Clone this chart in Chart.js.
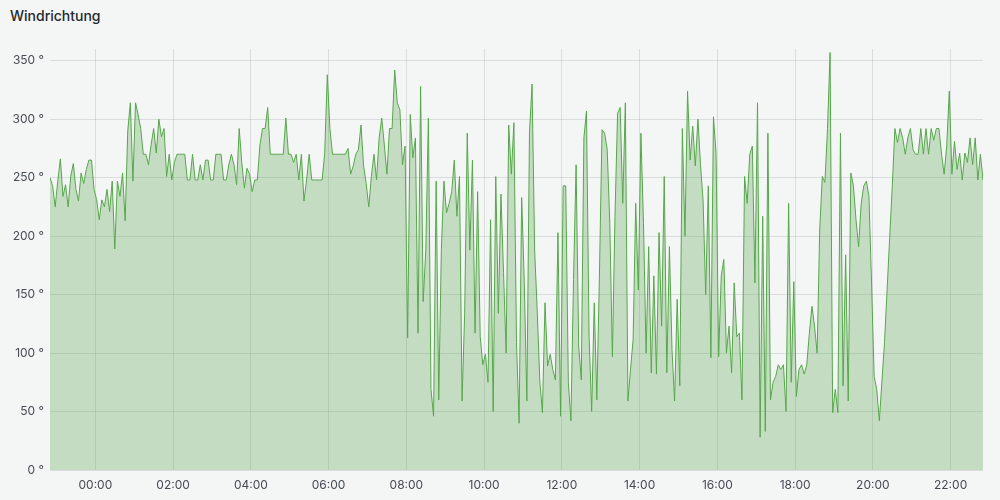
<!DOCTYPE html>
<html>
<head>
<meta charset="utf-8">
<title>Windrichtung</title>
<script src="https://cdn.jsdelivr.net/npm/chart.js@4/dist/chart.umd.min.js"></script>
<style>
    html, body { margin: 0; padding: 0; background: #f4f5f5; }
    .panel { position: relative; width: 1000px; height: 500px; }
    .panel-title {
        position: absolute; left: 10px; top: 7px;
        font: 500 14px/18px Inter, "Noto Sans", sans-serif;
        color: #24292e;
    }
    canvas { position: absolute; left: 0; top: 0; }
</style>
</head>
<body>
<div class="panel">
    <div class="panel-title">Windrichtung</div>
    <canvas id="chart" width="1000" height="500"></canvas>
</div>
<script>
// wind direction samples, one every 4 minutes, first one at 22:50 the day before
const startMinute = -70;
const stepMinutes = 4;
const directionDeg = [
    250, 243, 225, 247, 266, 234, 244, 225, 251, 262, 240, 230, 254, 245, 257,
    265, 265, 240, 231, 214, 231, 225, 240, 221, 247, 189, 247, 234, 254, 213,
    290, 314, 247, 314, 304, 292, 270, 270, 261, 278, 292, 271, 300, 285, 292,
    251, 270, 248, 263, 270, 270, 270, 270, 248, 248, 270, 248, 248, 261, 248,
    265, 265, 248, 248, 270, 270, 270, 248, 248, 261, 270, 261, 244, 292, 263,
    241, 258, 253, 238, 248, 248, 278, 292, 292, 310, 270, 270, 270, 270, 270,
    270, 301, 270, 270, 263, 270, 248, 270, 230, 248, 270, 248, 248, 248, 248,
    248, 271, 338, 292, 270, 270, 270, 270, 270, 270, 275, 253, 260, 270, 274,
    295, 260, 245, 225, 251, 270, 248, 284, 301, 278, 253, 292, 292, 342, 314,
    308, 261, 277, 113, 304, 267, 284, 117, 328, 144, 188, 301, 69, 46, 247,
    60, 188, 247, 220, 228, 238, 265, 217, 251, 59, 134, 288, 188, 265, 117,
    238, 114, 90, 99, 75, 214, 50, 251, 134, 236, 169, 100, 295, 253, 297,
    109, 40, 233, 161, 59, 288, 330, 188, 136, 76, 49, 143, 89, 99, 86,
    77, 203, 46, 243, 243, 75, 42, 163, 261, 106, 77, 284, 307, 114, 50,
    143, 60, 166, 291, 288, 274, 211, 97, 217, 305, 310, 228, 314, 59, 86,
    112, 228, 154, 288, 211, 100, 191, 83, 166, 82, 203, 123, 251, 83, 191,
    103, 59, 146, 72, 292, 200, 324, 265, 294, 260, 300, 261, 230, 150, 243,
    96, 302, 271, 97, 166, 180, 100, 123, 83, 160, 114, 117, 60, 251, 228,
    270, 277, 160, 314, 28, 217, 33, 288, 60, 75, 80, 90, 86, 90, 50,
    228, 75, 161, 63, 86, 90, 82, 90, 117, 140, 123, 100, 206, 251, 246,
    292, 357, 49, 69, 49, 288, 72, 184, 59, 254, 243, 214, 191, 228, 243,
    247, 234, 160, 80, 69, 42, 76, 109, 154, 199, 243, 292, 280, 292, 284,
    270, 284, 292, 274, 270, 270, 292, 270, 292, 270, 292, 282, 292, 292, 270,
    253, 277, 324, 253, 281, 257, 271, 248, 271, 263, 284, 261, 284, 248, 270,
    248
];
const xTickHours = [0, 2, 4, 6, 8, 10, 12, 14, 16, 18, 20, 22];
const yTickDeg = [0, 50, 100, 150, 200, 250, 300, 350];

const points = directionDeg.map((v, i) => ({ x: (startMinute + i * stepMinutes) / 60, y: v }));
const lastHour = (startMinute + (directionDeg.length - 1) * stepMinutes) / 60;

const tickFont = { family: 'Inter, "Noto Sans", sans-serif', size: 12 };
const tickColor = '#464c54';
const gridColor = 'rgba(36, 41, 46, 0.12)';

new Chart(document.getElementById('chart'), {
    type: 'line',
    data: {
        datasets: [{
            label: 'Windrichtung',
            data: points,
            borderColor: '#56a64b',
            backgroundColor: 'rgba(86, 166, 75, 0.3)',
            borderWidth: 1,
            pointRadius: 0,
            tension: 0,
            fill: 'origin'
        }]
    },
    options: {
        responsive: false,
        animation: false,
        layout: { padding: { top: 49, right: 17, bottom: 0, left: 0 } },
        scales: {
            x: {
                type: 'linear',
                min: startMinute / 60,
                max: lastHour,
                afterFit: (scale) => { scale.height = 30; },
                afterBuildTicks: (scale) => { scale.ticks = xTickHours.map(v => ({ value: v })); },
                border: { display: false },
                grid: { color: gridColor, drawTicks: false },
                ticks: {
                    padding: 8,
                    maxRotation: 0,
                    autoSkip: false,
                    color: tickColor,
                    font: tickFont,
                    callback: (v) => String(v).padStart(2, '0') + ':00'
                }
            },
            y: {
                min: 0,
                max: 360,
                afterFit: (scale) => { scale.width = 50; },
                afterBuildTicks: (scale) => { scale.ticks = yTickDeg.map(v => ({ value: v })); },
                border: { display: false },
                grid: { color: gridColor, drawTicks: false },
                ticks: {
                    padding: 6,
                    color: tickColor,
                    font: tickFont,
                    callback: (v) => v + ' °'
                }
            }
        },
        plugins: {
            legend: { display: false },
            title: { display: false },
            tooltip: { enabled: false }
        }
    }
});
</script>
</body>
</html>
